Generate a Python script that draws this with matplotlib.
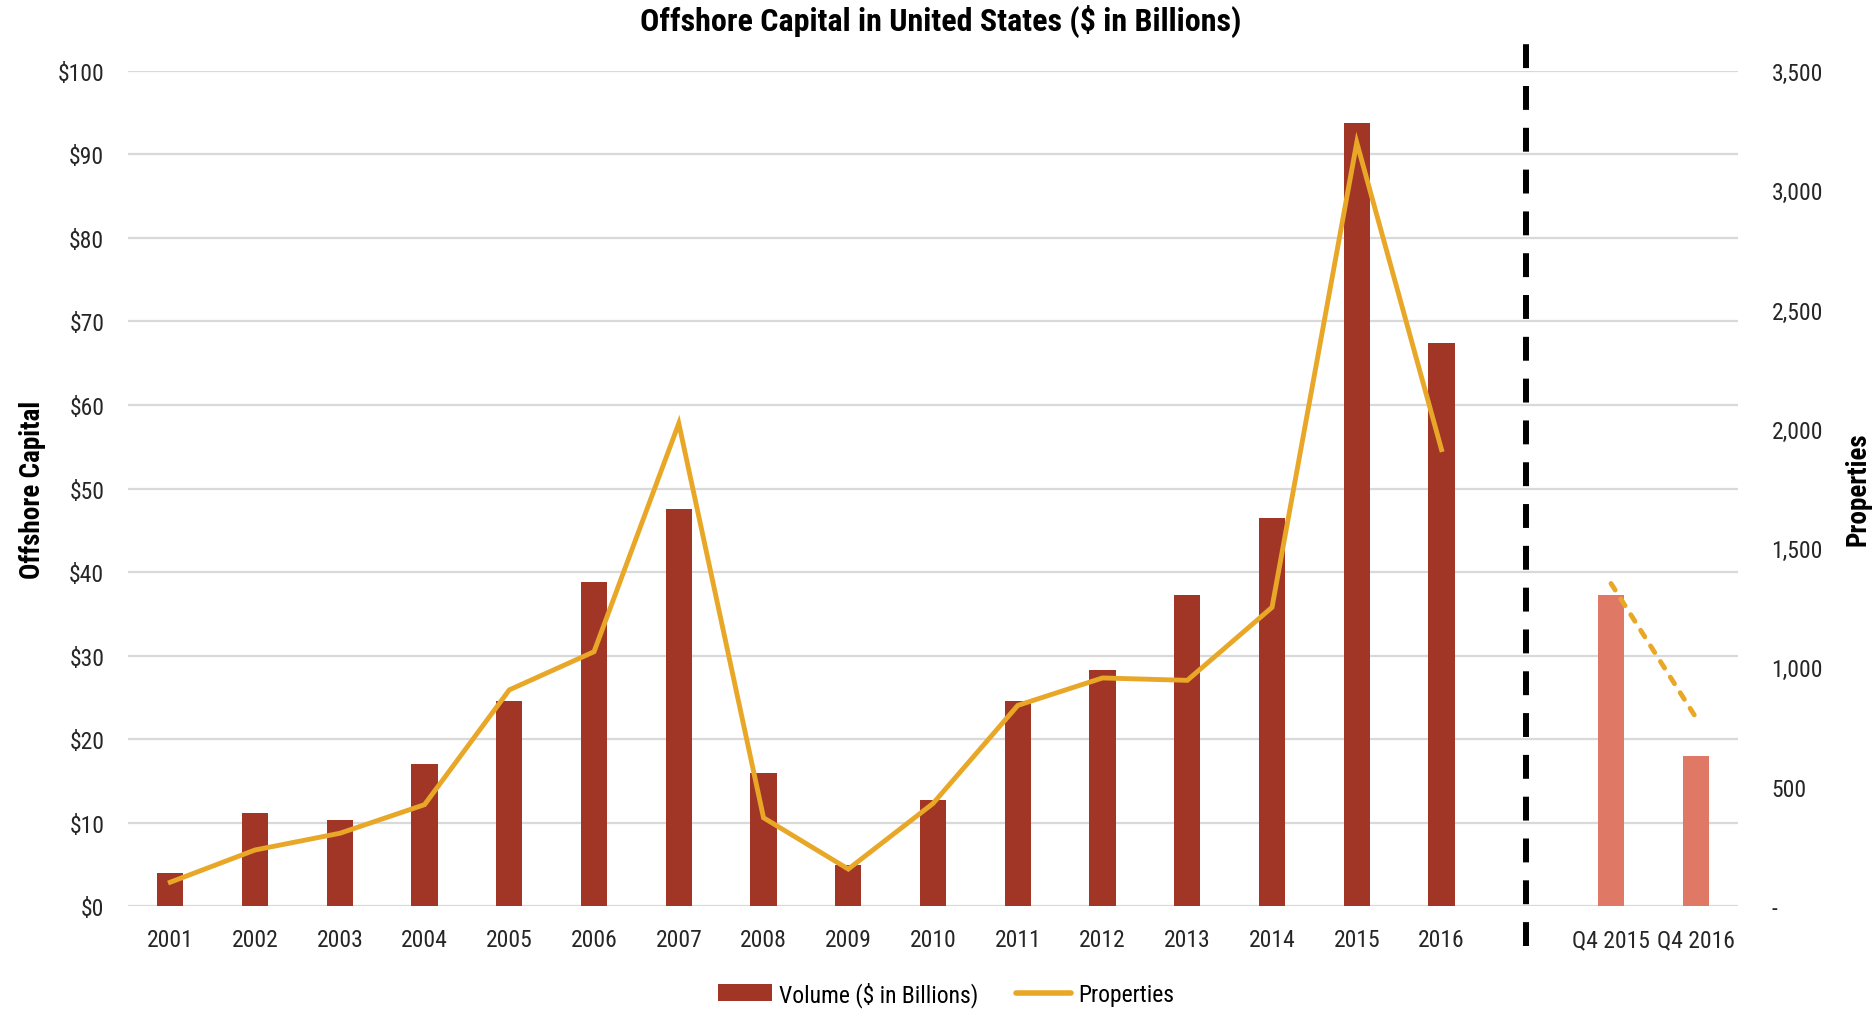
import matplotlib
matplotlib.use("Agg")
import matplotlib.pyplot as plt
from matplotlib.ticker import FuncFormatter, MultipleLocator
from matplotlib.patches import Patch
from matplotlib.lines import Line2D

plt.rcParams['font.family'] = ['Roboto Condensed', 'Liberation Sans Narrow', 'Roboto', 'DejaVu Sans']

# Annual figures, then a blank slot, then the Q4 comparison
years = ["2001", "2002", "2003", "2004", "2005", "2006", "2007", "2008",
         "2009", "2010", "2011", "2012", "2013", "2014", "2015", "2016"]
quarters = ["Q4 2015", "Q4 2016"]

volume_annual = [4.0, 11.2, 10.3, 17.0, 24.5, 38.8, 47.6, 15.9,
                 4.9, 12.7, 24.6, 28.3, 37.3, 46.5, 93.8, 67.4]
volume_q4 = [37.3, 18.0]

props_annual = [100, 235, 305, 425, 906, 1066, 2023, 370,
                155, 430, 841, 956, 946, 1252, 3200, 1913]
props_q4 = [1352, 791]

labels = years + [""] + quarters
x_annual = list(range(len(years)))
gap_pos = len(years)
x_q4 = [gap_pos + 1 + i for i in range(len(quarters))]

dark_red = "#A23626"
light_red = "#E07866"
orange = "#E9A727"
grid_grey = "#D9D9D9"

tick_fs = 17
label_fs = 19.5

fig = plt.figure(figsize=(18.73, 10.12), dpi=100)
ax1 = fig.add_axes([0.0683, 0.1037, 0.8597, 0.8252])
ax2 = ax1.twinx()

# Bars on the left axis
ax1.bar(x_annual, volume_annual, width=0.31, color=dark_red, zorder=2)
ax1.bar(x_q4, volume_q4, width=0.31, color=light_red, zorder=2)
ax1.set_ylim(0, 100)
ax1.set_xlim(-0.5, len(labels) - 0.5)
ax1.yaxis.set_major_locator(MultipleLocator(10))
ax1.yaxis.set_major_formatter(FuncFormatter(lambda v, p: "${:.0f}".format(v)))
ax1.grid(axis="y", color=grid_grey, linewidth=1.6, zorder=0)
ax1.set_axisbelow(True)
ax1.set_xticks(range(len(labels)))
ax1.set_xticklabels(labels, fontsize=tick_fs)
ax1.tick_params(axis="both", length=0, labelsize=tick_fs, colors="#262626")
ax1.tick_params(axis="x", pad=16)
ax1.tick_params(axis="y", pad=17)
ax1.set_ylabel("Offshore Capital", fontsize=label_fs, fontweight="bold")
ax1.yaxis.set_label_coords(-0.051, 0.5)

# Divider between the annual and quarterly groups
ax1.axvline(gap_pos, ymin=-0.048, ymax=1.038, color="black", linewidth=4.3,
            linestyle=(0, (4, 3)), dash_capstyle="butt", clip_on=False, zorder=3)

# Property counts on the right axis
ax2.plot(x_annual, props_annual, color=orange, linewidth=3.5,
         solid_joinstyle="miter", zorder=4)
ax2.plot(x_q4, props_q4, color=orange, linewidth=3.5,
         linestyle=(0, (1.6, 2.2)), dash_capstyle="round", zorder=4)
ax2.set_ylim(0, 3500)
ax2.yaxis.set_major_locator(MultipleLocator(500))
ax2.yaxis.set_major_formatter(FuncFormatter(lambda v, p: "-" if v == 0 else "{:,.0f}".format(v)))
ax2.tick_params(axis="y", length=0, labelsize=tick_fs, colors="#262626", pad=24)
ax2.set_ylabel("Properties", fontsize=label_fs, fontweight="bold")
ax2.yaxis.set_label_coords(1.066, 0.5)

for ax in (ax1, ax2):
    for side in ax.spines:
        ax.spines[side].set_visible(False)

fig.text(0.502, 0.979, "Offshore Capital in United States ($ in Billions)",
         ha="center", va="center", fontsize=23, fontweight="bold")

handles = [Patch(facecolor=dark_red, edgecolor="none"),
           Line2D([0], [0], color=orange, linewidth=4, solid_capstyle="round")]
fig.legend(handles, ["Volume ($ in Billions)", "Properties"], loc="center",
           bbox_to_anchor=(0.505, 0.017), ncol=2, frameon=False, fontsize=tick_fs,
           handlelength=2.3, handletextpad=0.3, columnspacing=1.6)

fig.savefig("out.png", dpi=100)
